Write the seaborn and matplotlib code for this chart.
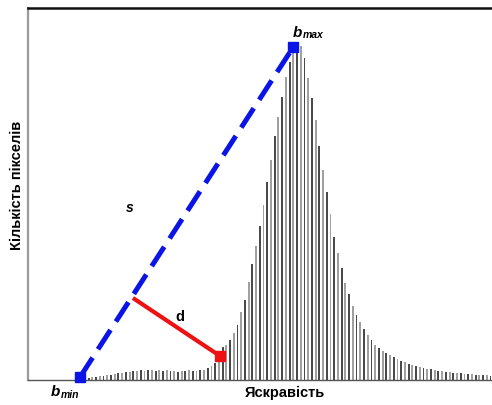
"""
Brightness histogram with the triangle threshold construction (b_min, b_max, s, d)
"""

import numpy as np
import matplotlib
matplotlib.use("Agg")
import matplotlib.pyplot as plt
import seaborn as sns

# ---------------------------------------------------------------------
# DATA
# ---------------------------------------------------------------------
counts = [
    0, 0, 1, 1, 2, 2, 3, 3, 4, 4,
    5, 5, 6, 7, 7, 8, 8, 9, 9, 10,
    9, 10, 10, 9, 10, 9, 10, 9, 9, 8,
    9, 9, 10, 9, 9, 10, 10, 12, 14, 17,
    28, 33, 35, 40, 47, 55, 68, 80, 98, 116,
    134, 154, 175, 198, 220, 244, 263, 283, 303, 318,
    328, 333, 334, 322, 302, 282, 260, 234, 210, 188,
    166, 143, 127, 112, 97, 86, 74, 65, 58, 51,
    45, 40, 35, 32, 29, 27, 25, 23, 21, 19,
    18, 16, 15, 14, 13, 12, 11, 11, 10, 9,
    9, 8, 8, 7, 7, 7, 6, 6, 6, 5,
    5, 5, 5, 4,
]
brightness = np.arange(len(counts))

# end points of the construction, in bin / count units
b_min = (2.7, 3)
b_max = (60.0, 333)
d_start = (16.9, 82)
d_end = (40.3, 24)

# ---------------------------------------------------------------------
# PLOT
# ---------------------------------------------------------------------
sns.set_theme(style="white")
plt.rcParams["font.family"] = ["Liberation Sans", "DejaVu Sans"]
plt.rcParams["text.color"] = "black"

fig = plt.figure(figsize=(4.92, 4.06), dpi=100)
ax = fig.add_axes([28 / 492, 25 / 406, 1 - 28 / 492, 372 / 406])

bar_colors = ["#a0a0a0" if i % 2 == 0 else "#4a4a4a" for i in range(len(counts))]
sns.barplot(x=brightness, y=counts, hue=brightness, palette=bar_colors,
            native_scale=True, width=0.5, legend=False, ax=ax, linewidth=0)

# s : b_min -> b_max
ax.plot([b_min[0], b_max[0]], [b_min[1], b_max[1]], color="#0a14e6",
        lw=3.6, linestyle=(0, (4.6, 2.0)), dash_capstyle="butt", zorder=5)
ax.plot([b_min[0], b_max[0]], [b_min[1], b_max[1]], "s", color="#0a14e6",
        ms=7.5, zorder=6, clip_on=False)

# d : perpendicular to s
ax.plot([d_start[0], d_end[0]], [d_start[1], d_end[1]], color="#ee1111",
        lw=3.0, solid_capstyle="butt", zorder=5)
ax.plot([d_end[0]], [d_end[1]], "s", color="#ee1111", ms=7, zorder=6)

ax.text(16.0, 173, "s", fontsize=10, fontweight="bold", fontstyle="italic",
        ha="center", va="center", color="black")
ax.text(29.5, 64, "d", fontsize=10.5, fontweight="bold", ha="center",
        va="center", color="black")

ax.set_xlim(-11.3, 113.4)
ax.set_ylim(0, 372)
ax.set_xticks([])
ax.set_yticks([])
ax.set_xlabel("")
ax.set_ylabel("")

ax.spines["right"].set_visible(False)
ax.spines["left"].set_color("#9a9a9a")
ax.spines["left"].set_linewidth(1.6)
ax.spines["top"].set_color("#111111")
ax.spines["top"].set_linewidth(1.8)
ax.spines["bottom"].set_color("#555555")
ax.spines["bottom"].set_linewidth(1.0)

# axis titles and point labels
fig.text(17 / 492, 1 - 185 / 406, "Кількість пікселів", rotation=90,
         fontsize=10.5, fontweight="bold", ha="center", va="center", color="black")
fig.text(285 / 492, 1 - 393 / 406, "Яскравість", fontsize=10.5,
         fontweight="bold", ha="center", va="center", color="black")

fig.text(55 / 492, 1 - 392 / 406, "b", fontsize=11, fontweight="bold",
         fontstyle="italic", ha="center", va="center", color="black")
fig.text(61 / 492, 1 - 395 / 406, "min", fontsize=7.5, fontweight="bold",
         fontstyle="italic", ha="left", va="center", color="black")
fig.text(297 / 492, 1 - 33 / 406, "b", fontsize=11, fontweight="bold",
         fontstyle="italic", ha="center", va="center", color="black")
fig.text(303 / 492, 1 - 35 / 406, "max", fontsize=7.5, fontweight="bold",
         fontstyle="italic", ha="left", va="center", color="black")

plt.savefig("out.png", dpi=100)
